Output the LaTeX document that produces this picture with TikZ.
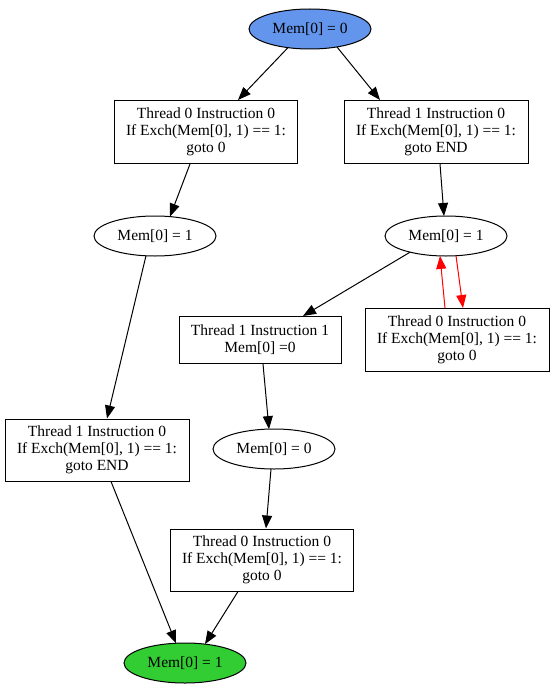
\documentclass[tikz,border=0pt]{standalone}
\usepackage{fontspec}
\setmainfont{Liberation Serif}
\usetikzlibrary{calc,shapes.geometric,arrows.meta}
\definecolor{startblue}{RGB}{100,149,237}
\definecolor{endgreen}{RGB}{50,205,50}
\begin{document}
\begin{tikzpicture}[x=1pt, y=1pt,
  box/.style={draw, line width=1pt, minimum width=183, minimum height=63, inner sep=0pt, align=center, font=\fontsize{15.5}{17}\selectfont},
  oval/.style={draw, ellipse, line width=1pt, minimum width=122, minimum height=40, inner sep=0pt, font=\fontsize{15.5}{17}\selectfont},
  arrow/.style={-{Triangle[length=13pt, width=10pt]}, line width=1pt},
  redarrow/.style={arrow, color=red}
]
\useasboundingbox (0,0) rectangle (555,-693);
% states and instructions
\node[oval, fill=startblue] (m0) at (310,-29) {Mem[0] = 0};
\node[box] (t0a) at (206,-132) {Thread 0 Instruction 0\\ If Exch(Mem[0], 1) == 1:\\ goto 0};
\node[box, minimum width=184] (t1a) at (436,-132) {Thread 1 Instruction 0\\ If Exch(Mem[0], 1) == 1:\\ goto END};
\node[oval] (ma) at (155,-236) {Mem[0] = 1};
\node[oval] (mb) at (446,-236) {Mem[0] = 1};
\node[box, minimum width=162, minimum height=47] (t1b) at (260,-340) {Thread 1 Instruction 1\\ Mem[0] =0};
\node[box, minimum width=184] (t0b) at (457,-340) {Thread 0 Instruction 0\\ If Exch(Mem[0], 1) == 1:\\ goto 0};
\node[box, minimum width=184, minimum height=62] (t1c) at (97,-450) {Thread 1 Instruction 0\\ If Exch(Mem[0], 1) == 1:\\ goto END};
\node[oval] (mc) at (274,-449) {Mem[0] = 0};
\node[box, minimum height=62] (t0c) at (262,-560) {Thread 0 Instruction 0\\ If Exch(Mem[0], 1) == 1:\\ goto 0};
\node[oval, fill=endgreen] (mend) at (185,-663) {Mem[0] = 1};
% transitions
\draw[arrow] ($(m0)+(-22,-18.6)$) -- ($(t0a.north)+(32,0)$);
\draw[arrow] ($(m0)+(27,-18)$) -- ($(t1a.north)+(-56,0)$);
\draw[arrow] ($(t0a.south)+(-16,0)$) -- ($(ma)+(15,19.4)$);
\draw[arrow] ($(t1a.south)+(4,0)$) -- ($(mb)+(-2,20)$);
\draw[arrow] ($(ma)+(-9,-19.7)$) -- ($(t1c.north)+(10,0)$);
\draw[arrow] ($(mb)+(-36,-16.2)$) -- ($(t1b.north)+(43,0)$);
\draw[redarrow] ($(t0b.north)+(-12,0)$) -- ($(mb)+(-6,-19.9)$);
\draw[redarrow] ($(mb)+(10,-19.7)$) -- ($(t0b.north)+(6,0)$);
\draw[arrow] ($(t1b.south)+(3,0)$) -- ($(mc)+(-5,19.9)$);
\draw[arrow] ($(mc)+(-3,-20)$) -- ($(t0c.north)+(4,0)$);
\draw[arrow] ($(t1c.south)+(14,0)$) -- ($(mend)+(-9,19.7)$);
\draw[arrow] ($(t0c.south)+(-24,0)$) -- ($(mend)+(20,18.9)$);
\end{tikzpicture}
\end{document}
